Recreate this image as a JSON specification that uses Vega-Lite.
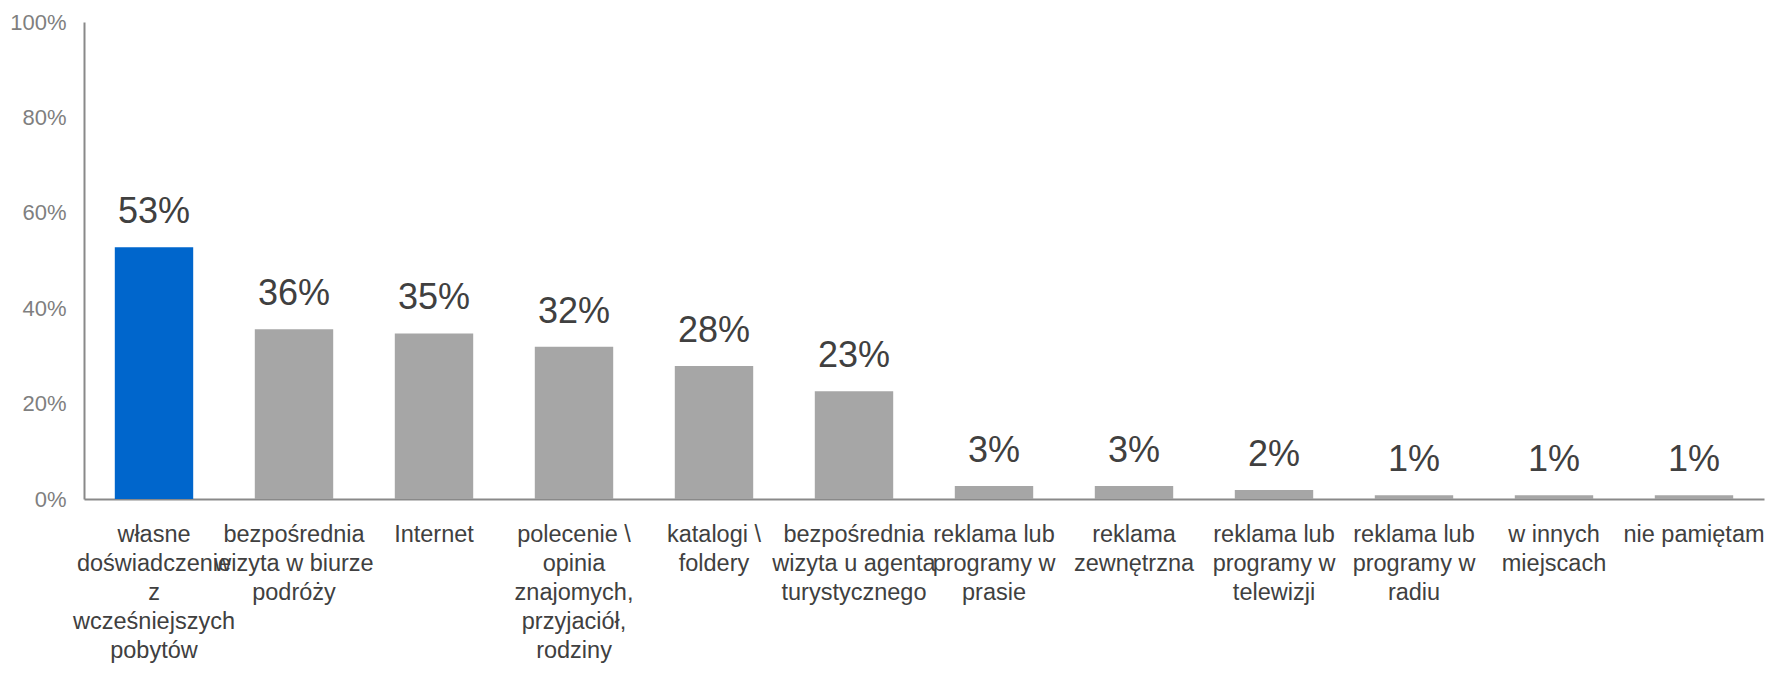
{
  "$schema": "https://vega.github.io/schema/vega-lite/v6.json",
  "width": 1680,
  "height": 477,
  "autosize": {"type": "none"},
  "padding": {"left": 84, "top": 22, "right": 9, "bottom": 175},
  "background": "white",
  "config": {"view": {"stroke": null}, "font": "Liberation Sans"},
  "data": {
    "values": [
      {"kategoria": "własne|doświadczenie|z|wcześniejszych|pobytów", "udzial": 0.528},
      {"kategoria": "bezpośrednia|wizyta w biurze|podróży", "udzial": 0.356},
      {"kategoria": "Internet", "udzial": 0.347},
      {"kategoria": "polecenie \\|opinia|znajomych,|przyjaciół,|rodziny", "udzial": 0.319},
      {"kategoria": "katalogi \\|foldery", "udzial": 0.279},
      {"kategoria": "bezpośrednia|wizyta u agenta|turystycznego", "udzial": 0.226},
      {"kategoria": "reklama lub|programy w|prasie", "udzial": 0.027},
      {"kategoria": "reklama|zewnętrzna", "udzial": 0.027},
      {"kategoria": "reklama lub|programy w|telewizji", "udzial": 0.019},
      {"kategoria": "reklama lub|programy w|radiu", "udzial": 0.008},
      {"kategoria": "w innych|miejscach", "udzial": 0.008},
      {"kategoria": "nie pamiętam", "udzial": 0.008}
    ]
  },
  "encoding": {
    "x": {
      "field": "kategoria",
      "type": "nominal",
      "sort": null,
      "scale": {"paddingInner": 0.44, "paddingOuter": 0.22},
      "axis": {
        "title": null,
        "labelAngle": 0,
        "labelExpr": "split(datum.value, '|')",
        "labelFontSize": 23.5,
        "labelColor": "#404040",
        "labelLineHeight": 29,
        "labelPadding": 23,
        "labelBaseline": "top",
        "ticks": false,
        "domainColor": "#898989",
        "domainWidth": 2,
        "labelLimit": 0,
        "labelOverlap": false,
        "labelBound": false,
        "labelFlush": false
      }
    },
    "y": {
      "field": "udzial",
      "type": "quantitative",
      "scale": {"domain": [0, 1]},
      "axis": {
        "title": null,
        "format": ".0%",
        "values": [0, 0.2, 0.4, 0.6, 0.8, 1],
        "labelFontSize": 22,
        "labelColor": "#7F7F7F",
        "ticks": false,
        "grid": false,
        "domainColor": "#898989",
        "domainWidth": 2,
        "labelPadding": 18
      }
    }
  },
  "layer": [
    {
      "mark": {"type": "bar"},
      "encoding": {
        "color": {
          "condition": {"test": "datum.kategoria === 'własne|doświadczenie|z|wcześniejszych|pobytów'", "value": "#0066CC"},
          "value": "#A6A6A6"
        }
      }
    },
    {
      "mark": {"type": "text", "baseline": "alphabetic", "dy": -24, "fontSize": 36, "color": "#404040"},
      "encoding": {"text": {"field": "udzial", "format": ".0%"}}
    }
  ]
}
